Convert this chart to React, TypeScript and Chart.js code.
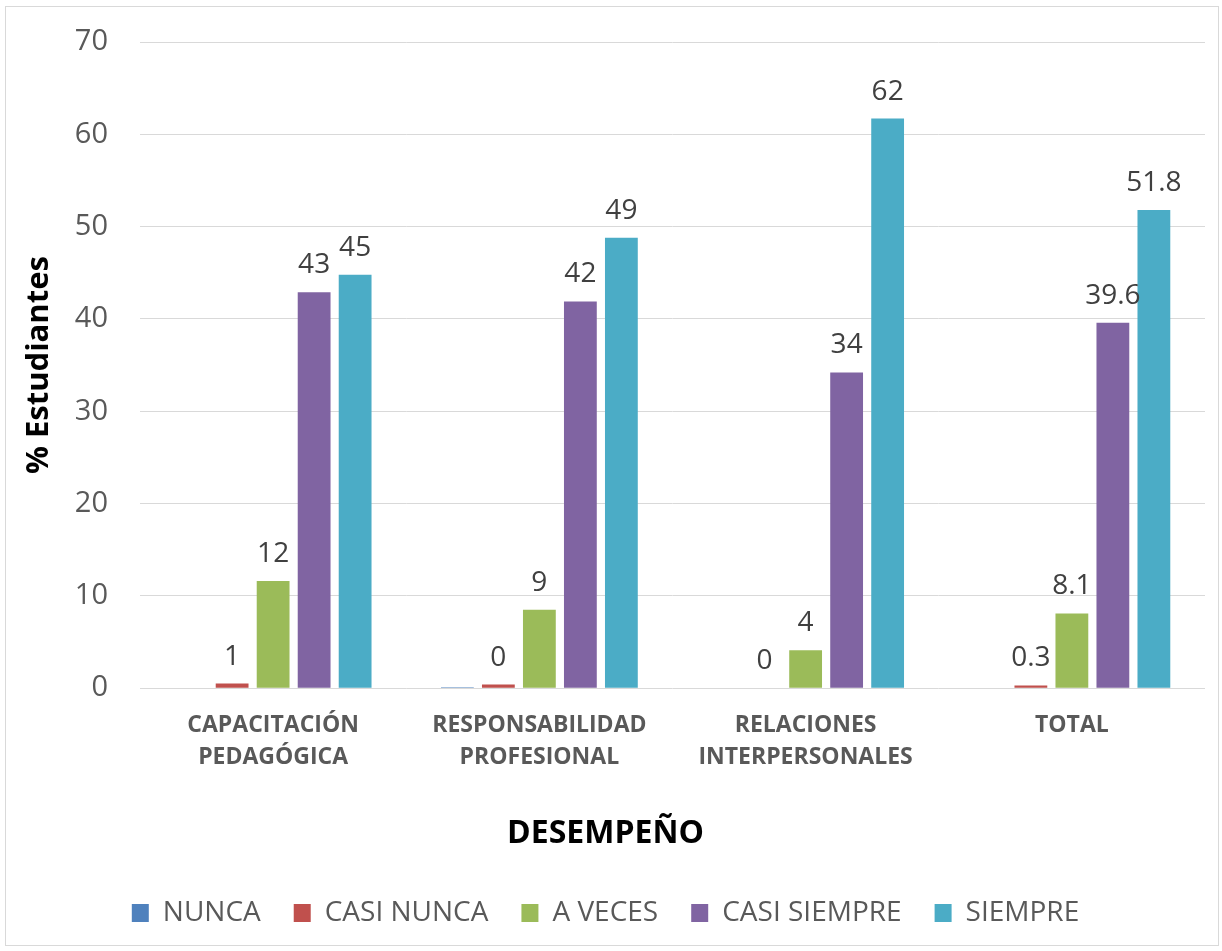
import React, { useEffect, useRef } from "react";
import { Chart, registerables } from "chart.js";

Chart.register(...registerables);

const CATEGORIES: string[][] = [
  ["CAPACITACIÓN", "PEDAGÓGICA"],
  ["RESPONSABILIDAD", "PROFESIONAL"],
  ["RELACIONES", "INTERPERSONALES"],
  ["TOTAL"],
];

const SERIES_NAMES = ["NUNCA", "CASI NUNCA", "A VECES", "CASI SIEMPRE", "SIEMPRE"];
const SERIES_COLORS = ["#4f81bd", "#c0504d", "#9bbb59", "#8064a2", "#4bacc6"];

const NUNCA = [0, 0.1, 0, 0];
const CASI_NUNCA = [0.5, 0.4, 0, 0.3];
const A_VECES = [11.6, 8.5, 4.1, 8.1];
const CASI_SIEMPRE = [42.9, 41.9, 34.2, 39.6];
const SIEMPRE = [44.8, 48.8, 61.7, 51.8];

const SHOW_VALUE_LABELS = [false, true, true, true, true];
const LABEL_DECIMALS = [0, 0, 0, 1];

const Y_MIN = 0;
const Y_MAX = 70;
const Y_STEP = 10;

const FONT = "'Open Sans', 'DejaVu Sans', sans-serif";

const valueLabels = {
  id: "valueLabels",
  afterDatasetsDraw(chart: any) {
    const ctx = chart.ctx;
    ctx.save();
    ctx.font = `28px ${FONT}`;
    ctx.fillStyle = "#404040";
    ctx.textAlign = "center";
    ctx.textBaseline = "alphabetic";
    chart.data.datasets.forEach((ds: any, di: number) => {
      if (!SHOW_VALUE_LABELS[di]) return;
      const meta = chart.getDatasetMeta(di);
      meta.data.forEach((el: any, i: number) => {
        const v = ds.data[i] as number;
        const dec = LABEL_DECIMALS[i];
        const txt = dec === 0 ? String(Math.round(v)) : v.toFixed(dec);
        ctx.fillText(txt, el.x, el.y - 19);
      });
    });
    ctx.restore();
  },
};

export default function App() {
  const ref = useRef<HTMLCanvasElement | null>(null);

  useEffect(() => {
    if (!ref.current) return;
    Chart.defaults.font.family = FONT;
    const values = [NUNCA, CASI_NUNCA, A_VECES, CASI_SIEMPRE, SIEMPRE];
    const chart = new Chart(ref.current, {
      type: "bar",
      data: {
        labels: CATEGORIES as any,
        datasets: SERIES_NAMES.map((name, i) => ({
          label: name,
          data: values[i],
          backgroundColor: SERIES_COLORS[i],
          borderWidth: 0,
          categoryPercentage: 0.77,
          barPercentage: 0.8,
        })),
      },
      options: {
        responsive: false,
        animation: false,
        layout: { padding: { top: 35, right: 13, bottom: 8, left: 0 } },
        scales: {
          x: {
            grid: { display: false, drawTicks: false },
            border: { display: false },
            ticks: {
              color: "#595959",
              font: { size: 23, weight: "bold", lineHeight: 1.4 },
              padding: 21,
              maxRotation: 0,
              autoSkip: false,
            },
          },
          y: {
            min: Y_MIN,
            max: Y_MAX,
            grid: { color: "#d9d9d9", lineWidth: 1, drawTicks: false },
            border: { display: false },
            ticks: {
              stepSize: Y_STEP,
              color: "#595959",
              font: { size: 29 },
              padding: 32,
            },
            title: {
              display: true,
              text: "% Estudiantes",
              color: "#000000",
              font: { size: 31, weight: "bold", lineHeight: 1.2 },
              padding: { top: 15, bottom: 10 },
            },
            afterFit: (scale: any) => {
              scale.width = 134;
              scale.paddingTop = 16;
              scale.paddingBottom = 16;
            },
          },
        },
        plugins: {
          legend: {
            position: "bottom",
            labels: {
              color: "#595959",
              font: { size: 28 },
              boxWidth: 17,
              boxHeight: 18,
              padding: 33,
            },
          },
          title: {
            display: true,
            text: "DESEMPEÑO",
            position: "bottom",
            weight: 500,
            color: "#000000",
            font: { size: 32, weight: "bold", lineHeight: 1.2 },
            padding: { top: 20, bottom: 13 },
          } as any,
          tooltip: { enabled: false },
        },
      },
      plugins: [valueLabels],
    });
    return () => chart.destroy();
  }, []);

  return (
    <div
      style={{
        position: "absolute",
        left: 5,
        top: 6,
        width: 1212,
        height: 938,
        border: "1px solid #d9d9d9",
        background: "#ffffff",
      }}
    >
      <canvas ref={ref} width={1212} height={938} style={{ display: "block" }} />
    </div>
  );
}
